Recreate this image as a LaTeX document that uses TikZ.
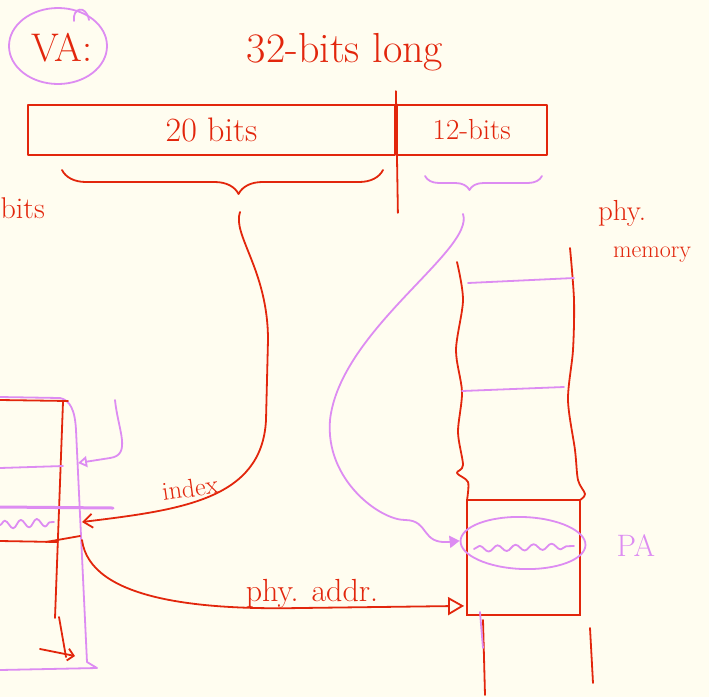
\documentclass[tikz,border=0pt]{standalone}
\usepackage{fontspec}
\usetikzlibrary{arrows.meta,positioning,calc,shapes.geometric,decorations.pathreplacing,decorations.pathmorphing}
\definecolor{InkRed}{HTML}{E2260C}
\definecolor{InkPink}{HTML}{DD8CF2}
\definecolor{Paper}{HTML}{FFFDF0}
\newcommand{\handsize}[1]{\fontsize{#1}{#1}\selectfont}
\tikzset{ink/.style={draw=InkRed,line width=1.8pt,line cap=round,line join=round},
  pinkink/.style={draw=InkPink,line width=1.8pt,line cap=round,line join=round},
  hand/.style={text=InkRed,font=\handsize{30},inner sep=0pt},
  bitbox/.style={ink,rectangle,minimum height=50pt,inner sep=0pt,hand},
  arr/.style={-{Triangle[open,length=16pt,width=18pt]}}}

\begin{document}
\begin{tikzpicture}[x=1pt,y=-1pt]
\fill[Paper] (0,0) rectangle (709,697);
\useasboundingbox (0,0) rectangle (709,697);

% virtual address
\node[hand, font=\handsize{40}] (va) at (62,48) {VA:};
\node[ellipse, draw=InkPink, line width=1.8pt, minimum width=98pt, minimum height=76pt] (varing) at (58,46) {};
\draw[pinkink] (74,21) .. controls (72,8) and (86,4) .. (89,20);
\node[hand, font=\handsize{42}] (len) at (345,52) {32-bits long};

\node[bitbox, minimum width=367pt, font=\handsize{34}] (vpn) at (211.5,130) {20 bits};
\node[bitbox, minimum width=150pt, font=\handsize{29}, right=0pt of vpn] (off) {12-bits};
\draw[ink] ($(vpn.north east)+(0,-13)$) -- ($(vpn.south east)+(2,57)$);

% braces
\draw[ink, decorate, decoration={brace, mirror, amplitude=24pt, aspect=0.55}] (62,170) -- (383,170);
\draw[pinkink, decorate, decoration={brace, mirror, amplitude=14pt, aspect=0.38}] (425,176) -- (542,176);
\coordinate (vpntip) at (240,212);
\coordinate (offtip) at (463,214);

\node[hand, anchor=east] (bitsleft) at (45,208) {bits};

% physical memory
\node[hand, font=\handsize{29}] (phy) at (622,213) {phy.};
\node[hand, font=\handsize{24}] (mem) at (652,255) {memory};
\node[draw=InkRed, line width=1.8pt, minimum width=113pt, minimum height=115pt, inner sep=0pt] (frame) at (523.5,557.5) {};
\draw[ink] plot[smooth] coordinates {(457,262) (463,300) (456,350) (462,392) (458,432) (463,465) (457,473) (468,482) (467,500)};
\draw[ink] plot[smooth] coordinates {(570,248) (574,300) (573,350) (568,400) (575,450) (578,480) (585,494) (580,500)};
\draw[pinkink] (468,283) -- (574,278);
\draw[pinkink] (462,391) -- (564,387);
\draw[ink] (483,620) -- (485,695);
\draw[ink] (590,628) -- (593,683);
\draw[pinkink] (480,612) -- (483,648);

\node[ellipse, draw=InkPink, line width=1.8pt, minimum width=125pt, minimum height=52pt, rotate=-2] (pa) at (523,543) {};
\draw[pinkink, decorate, decoration={snake, amplitude=3pt, segment length=18pt}] (474,549) -- (574,546);
\node[hand, text=InkPink, font=\handsize{31}, right=30pt of pa] (palabel) {PA};

% page table
\draw[pinkink] (0,397) -- (60,398) .. controls (70,400) and (75,410) .. (76,430) -- (87,662) -- (97,668) -- (0,670);
\draw[ink] (0,400) -- (68,401);
\draw[ink] (63,402) -- (55,618);
\draw[pinkink, -{Triangle[open,length=9pt,width=11pt]}] (115,400) .. controls (118,430) and (132,455) .. (110,458) -- (78,463);
\draw[pinkink] (0,468) -- (63,466);
\draw[pinkink, line width=3pt] (0,507) -- (113,508);
\draw[pinkink, decorate, decoration={snake, amplitude=4pt, segment length=16pt}] (0,525) -- (54,522);
\draw[ink] (0,541) -- (58,542);
\draw[ink] (46,542) -- (80,536);
\draw[ink] (59,617) -- (66,657);
\draw[ink, -{Straight Barb[length=6pt]}] (40,649) -- (75,656);
\coordinate (pte) at (82,522);
\coordinate (pteout) at (82,540);
\coordinate (frameport) at ($(frame.south west)+(-2,-10)$);

% connectors
\draw[ink, -{Straight Barb[length=9pt,width=14pt]}] (vpntip) .. controls (232,235) and (268,270) .. (268,340) -- (266,420) .. controls (262,500) and (180,510) .. (pte);
\node[hand, font=\handsize{26}, rotate=8] (idx) at (190,488) {index};
\draw[pinkink, -{Triangle[length=10pt,width=12pt]}] (offtip) .. controls (475,250) and (340,330) .. (330,420) .. controls (325,480) and (380,520) .. (405,520) .. controls (430,520) and (420,545) .. (pa.west);
\draw[ink, arr] (pteout) .. controls (90,600) and (200,610) .. (300,608) -- (frameport);
\node[hand, font=\handsize{32}] (addr) at (312,594) {phy. addr.};
\end{tikzpicture}
\end{document}
